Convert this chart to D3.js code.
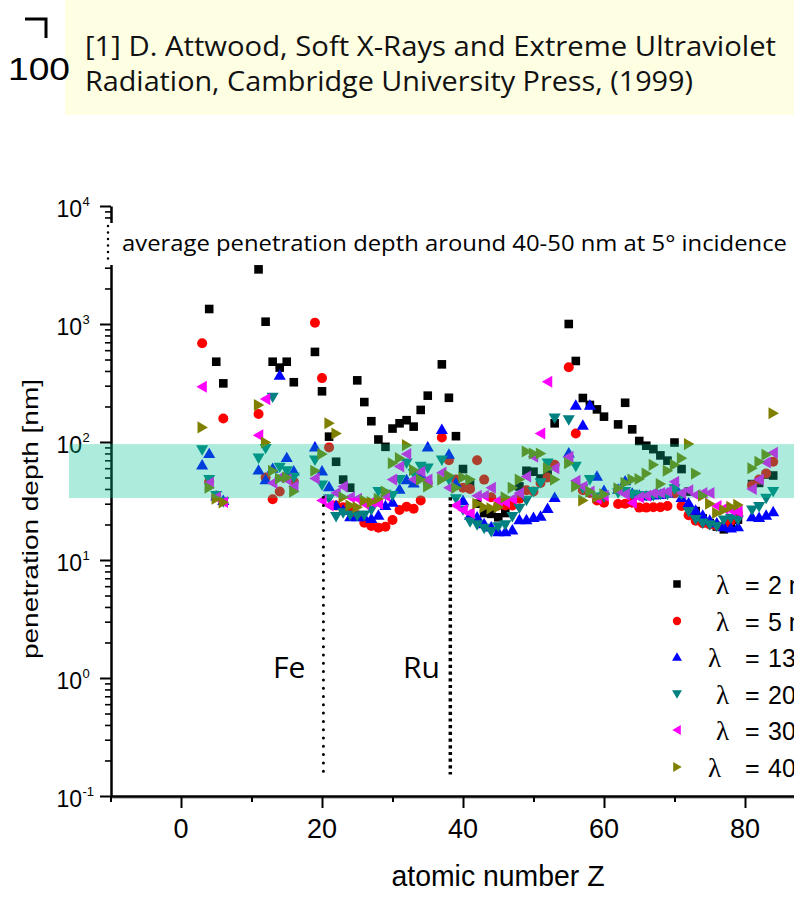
<!DOCTYPE html>
<html><head><meta charset="utf-8">
<script src="https://cdn.jsdelivr.net/npm/d3@7"></script>
<style>html,body{margin:0;padding:0;background:#fff;}svg{display:block;}</style>
</head><body>
<svg id="c" width="794" height="908"></svg>
<script>
// ---------------- data ----------------
const Z = [3,4,5,6,11,12,13,14,15,16,19,20,21,22,23,24,25,26,27,28,29,30,31,32,33,34,35,
  37,38,39,40,41,42,43,44,45,46,47,48,49,50,51,52,53,55,56,57,58,59,60,
  62,63,64,65,66,67,68,69,70,71,72,73,74,75,76,77,78,79,81,82,83,84];
const depth2nm = [null,1340,479,314, 2904,1046,479,427,479,321,
  580,269,111,68,48,41,333,218,150,105,91,130,144,153,135,187,247,
  455,237,112,59,45,30,25,24.6,23,25,30,42,57,56,49,53,144,
  1000,486,236,206,189,164,
  141,215,128,102,93,87,77,69.5,99,59,38,26,22.5,20.5,19.2,18.2,19.2,22,
  44,45,53,52];
const depth5nm = [686,46,35,158, 173,50,32.7,38,50,46,
  1026,348,90,29,28,27,24,20.7,19.4,18.8,19.1,21.8,26.5,28.3,27.2,32,45,
  109,70,48,41,40,70,48,34,29,29,29,33,39,38,45,50,64,
  430,118,39,37,32,30.6,
  29.8,30,30.6,27.8,27.8,28,28,28.7,36.7,28.7,24,21.5,20.5,20,19.5,19.5,21.5,25,
  43,48,54,68];
const depth13nm = [64,80,35,32, 58,48,60,370,74,57,
  91,57,42,29,26.5,23.3,23.3,23.3,22.5,24,29,31,40,48,45,54,91,
  128,79,45,32,24,23.3,20.4,19.1,17.4,17.4,18,22,22,23,23.6,27.4,34,
  81,206,139,206,51.5,39,
  40,47,37,35.6,35,35.6,36,37,43,34,30.6,26.5,24,21.8,20.7,19.2,18.7,19.2,
  23.3,23,24,25.7];
const depth20nm = [85.5,48,35,31, 73,88,239,61,57,50,
  70,43,33,23.3,25,24,23.6,24,26.5,38,36,35,48,66,54,62,60,
  70,48,33,26.5,21,19.8,18.5,17.4,19.1,19.8,23.3,27.4,32,38,45,66,159,
  154,62,40.5,48,34,34,
  37,38,36,35,35,35,36,36,40,36,25.7,22,20.5,19.8,19.2,21.8,22.5,21.8,
  26.5,28.3,33.3,38];
const depth30nm = [294,45,34,31, 114,231,45,50,48,42,
  49,32,29,37,42,34,33,30,31,30,35,48,62,79,48,56,48,
  55,41,29,26.5,25,35,35,41,32,31,33,37,51,75,118,324,60,
  75,47,42,38,33,35,
  39,36,30.6,34,35,37,37,38,46,37,39,35.6,37,37,28.7,27.4,26.5,25.7,
  40,48,67,81];
const depth40nm = [133,41,33,30.8, 206,99,57,49,50,38,
  57,79,144,118,34,29,28,32,31,33,38,66,73,94,58,48,42,
  48,52,41,50,48,30,28,27.4,28,34,41,48,83,80,80,60,48,
  66,42,32,38,34,36,
  40.5,45,48,48.6,54,64,44,57,64,73,96,54,35,30,25,26.5,28.3,29.3,
  60,68,78,175];

const seriesNames = ["2 nm","5 nm","13 nm","20 nm","30 nm","40 nm"];
const seriesValues = [depth2nm, depth5nm, depth13nm, depth20nm, depth30nm, depth40nm];
const seriesColors = ["#000000","#ff0000","#0000ff","#008080","#ff00ff","#808000"];
const seriesShapes = ["square","circle","up","down","left","right"];

const xMajorTicks = [0,20,40,60,80];
const xMinorTicks = [-10,10,30,50,70];
const yMajorTicks = [0.1,1,10,100,1000,10000];
const yTickExponents = ["-1","0","1","2","3","4"];
const bandRange = [33.5, 96];
const elementLines = [{label:"Fe", z:20.2, from:34, to:0.155, dash:"round"},
                      {label:"Ru", z:38.2, from:34, to:0.152, dash:"square"}];

// ---------------- scales ----------------
const svg = d3.select("#c");
const x = d3.scaleLinear().domain([-10, 90]).range([110.5, 815.5]);
const y = d3.scaleLog().domain([0.1, 10000]).range([796, 206]);

// ---------------- header box ----------------
svg.append("rect").attr("x",65).attr("y",0).attr("width",729).attr("height",115).attr("fill","#fefee3");
svg.append("path").attr("d","M25,19H46V38").attr("fill","none").attr("stroke","#000").attr("stroke-width",3);
svg.append("text").attr("x",8).attr("y",80).attr("font-family","Liberation Sans, Arial").attr("font-size",31)
  .attr("textLength",62).attr("lengthAdjust","spacingAndGlyphs").text("100");
const titleFont = "Open Sans, Noto Sans, sans-serif";
svg.append("text").attr("x",85).attr("y",56).attr("font-family",titleFont).attr("font-size",27.5)
  .attr("textLength",691).attr("lengthAdjust","spacingAndGlyphs").attr("fill","#111")
  .text("[1] D. Attwood, Soft X-Rays and Extreme Ultraviolet");
svg.append("text").attr("x",85).attr("y",91).attr("font-family",titleFont).attr("font-size",27.5)
  .attr("textLength",608).attr("lengthAdjust","spacingAndGlyphs").attr("fill","#111")
  .text("Radiation, Cambridge University Press, (1999)");

// ---------------- axes ----------------
const axisFont = "Liberation Sans Narrow, Liberation Sans, Arial";
const gx = svg.append("g").attr("transform","translate(0,796)");
gx.append("line").attr("x1",110).attr("x2",794).attr("y1",2).attr("y2",2).attr("stroke","#aaa").attr("stroke-width",1.5);
gx.call(d3.axisBottom(x).tickValues(xMajorTicks).tickSize(12).tickSizeOuter(0).tickFormat(""));
const gxm = svg.append("g").attr("transform","translate(0,796)")
  .call(d3.axisBottom(x).tickValues(xMinorTicks).tickSize(6).tickSizeOuter(0).tickFormat(""));
gxm.select(".domain").remove();
svg.selectAll(".tick line").attr("stroke-width",2);
gx.select(".domain").attr("stroke-width",2.5);
xMajorTicks.forEach(v=>{
  svg.append("text").attr("x",x(v)).attr("y",838).attr("text-anchor","middle")
    .attr("font-family",axisFont).attr("font-size",27).text(v);
});
svg.append("text").attr("x",498).attr("y",886).attr("text-anchor","middle")
  .attr("font-family","Liberation Sans, Arial").attr("font-size",29)
  .attr("textLength",213).attr("lengthAdjust","spacingAndGlyphs").text("atomic number Z");

const gy = svg.append("g").attr("transform","translate(111,0)");
gy.call(d3.axisLeft(y).tickValues(yMajorTicks).tickSize(11).tickSizeOuter(0).tickFormat(""));
const yMinor = [];
for (let k=-1;k<=3;k++) for (let m=2;m<=9;m++) yMinor.push(m*Math.pow(10,k));
const gym = svg.append("g").attr("transform","translate(111,0)")
  .call(d3.axisLeft(y).tickValues(yMinor).tickSize(6).tickSizeOuter(0).tickFormat(""));
gym.select(".domain").remove();
gy.select(".domain").attr("stroke-width",2.5);
gy.selectAll(".tick line").attr("stroke-width",2); gym.selectAll(".tick line").attr("stroke-width",1.6);
yMajorTicks.forEach((v,i)=>{
  const t = svg.append("text").attr("font-family",axisFont).attr("font-size",23);
  t.append("tspan").attr("x",82).attr("y",y(v)+11).attr("text-anchor","end").text("10");
  svg.append("text").attr("x",82.5).attr("y",y(v)-0.5).attr("font-family",axisFont).attr("font-size",13).text(yTickExponents[i]);
});
svg.append("text").attr("transform","translate(38,519) scale(0.8,1) rotate(-90)").attr("text-anchor","middle")
  .attr("font-family","Liberation Sans, Arial").attr("font-size",28).text("penetration depth [nm]");

// gap in y axis behind annotation
svg.append("rect").attr("x",96).attr("y",223).attr("width",20).attr("height",42).attr("fill","#fff");
svg.append("line").attr("x1",108).attr("x2",108).attr("y1",226).attr("y2",263).attr("stroke","#000")
  .attr("stroke-width",2.5).attr("stroke-linecap","round").attr("stroke-dasharray","0,6.5");

// ---------------- markers ----------------
function shapePath(type, s){
  const h = s/2;
  switch(type){
    case "square": return `M${-h},${-h}H${h}V${h}H${-h}Z`;
    case "up": return `M0,${-h*1.05}L${h*1.1},${h*0.85}L${-h*1.1},${h*0.85}Z`;
    case "down": return `M0,${h*1.05}L${h*1.1},${-h*0.85}L${-h*1.1},${-h*0.85}Z`;
    case "left": return `M${-h*1.05},0L${h*0.85},${-h*1.1}L${h*0.85},${h*1.1}Z`;
    case "right": return `M${h*1.05},0L${-h*0.85},${-h*1.1}L${-h*0.85},${h*1.1}Z`;
  }
}
const plot = svg.append("g");
seriesValues.forEach((vals,si)=>{
  const pts = Z.map((z,i)=>({z:z, v:vals[i]})).filter(d=>d.v!=null);
  const g = plot.append("g").attr("fill",seriesColors[si]);
  if (seriesShapes[si]==="circle"){
    g.selectAll("circle").data(pts).join("circle")
      .attr("cx",d=>x(d.z)).attr("cy",d=>y(d.v)).attr("r",5);
  } else {
    g.selectAll("path").data(pts).join("path")
      .attr("transform",d=>`translate(${x(d.z)},${y(d.v)})`)
      .attr("d",shapePath(seriesShapes[si], seriesShapes[si]==="square"?8.6:11));
  }
});

// ---------------- band (overlay) ----------------
svg.append("rect").attr("x",69).attr("width",794-69)
  .attr("y",y(bandRange[1])).attr("height",y(bandRange[0])-y(bandRange[1]))
  .attr("fill","rgb(0,196,146)").attr("fill-opacity",0.32);

// ---------------- element lines ----------------
elementLines.forEach(e=>{
  const ln = svg.append("line").attr("x1",x(e.z)).attr("x2",x(e.z)).attr("y1",y(e.from)).attr("y2",y(e.to)).attr("stroke","#000");
  if (e.dash==="round") ln.attr("stroke-width",3).attr("stroke-linecap","round").attr("stroke-dasharray","0,8.3");
  else ln.attr("stroke-width",3.5).attr("stroke-dasharray","3.2,3.5");
});
svg.append("text").attr("x",273).attr("y",678).attr("font-family",titleFont).attr("font-size",30).text("Fe");
svg.append("text").attr("x",403).attr("y",678).attr("font-family",titleFont).attr("font-size",30).text("Ru");

// ---------------- annotation ----------------
svg.append("text").attr("x",122).attr("y",251).attr("font-family",titleFont).attr("font-size",21)
  .attr("textLength",665).attr("lengthAdjust","spacingAndGlyphs")
  .text("average penetration depth around 40-50 nm at 5° incidence");

// ---------------- legend ----------------
const legendY = [584,621,657,694,730,767];
const lambdaX = [716,716,708,716,716,708];
seriesNames.forEach((nm,i)=>{
  const gy0 = legendY[i];
  if (seriesShapes[i]==="circle") svg.append("circle").attr("cx",677).attr("cy",gy0).attr("r",4.2).attr("fill",seriesColors[i]);
  else svg.append("path").attr("transform",`translate(677,${gy0})`).attr("d",shapePath(seriesShapes[i], seriesShapes[i]==="square"?7.5:9)).attr("fill",seriesColors[i]);
  svg.append("text").attr("x",lambdaX[i]).attr("y",gy0+10).attr("font-family","Liberation Serif, serif").attr("font-size",27).text("λ");
  svg.append("text").attr("x",745).attr("y",gy0+10).attr("font-family","Liberation Sans, Arial").attr("font-size",25).text("=");
  svg.append("text").attr("x",768).attr("y",gy0+10).attr("font-family","Liberation Sans, Arial").attr("font-size",25).text(nm);
});
</script>
</body></html>
